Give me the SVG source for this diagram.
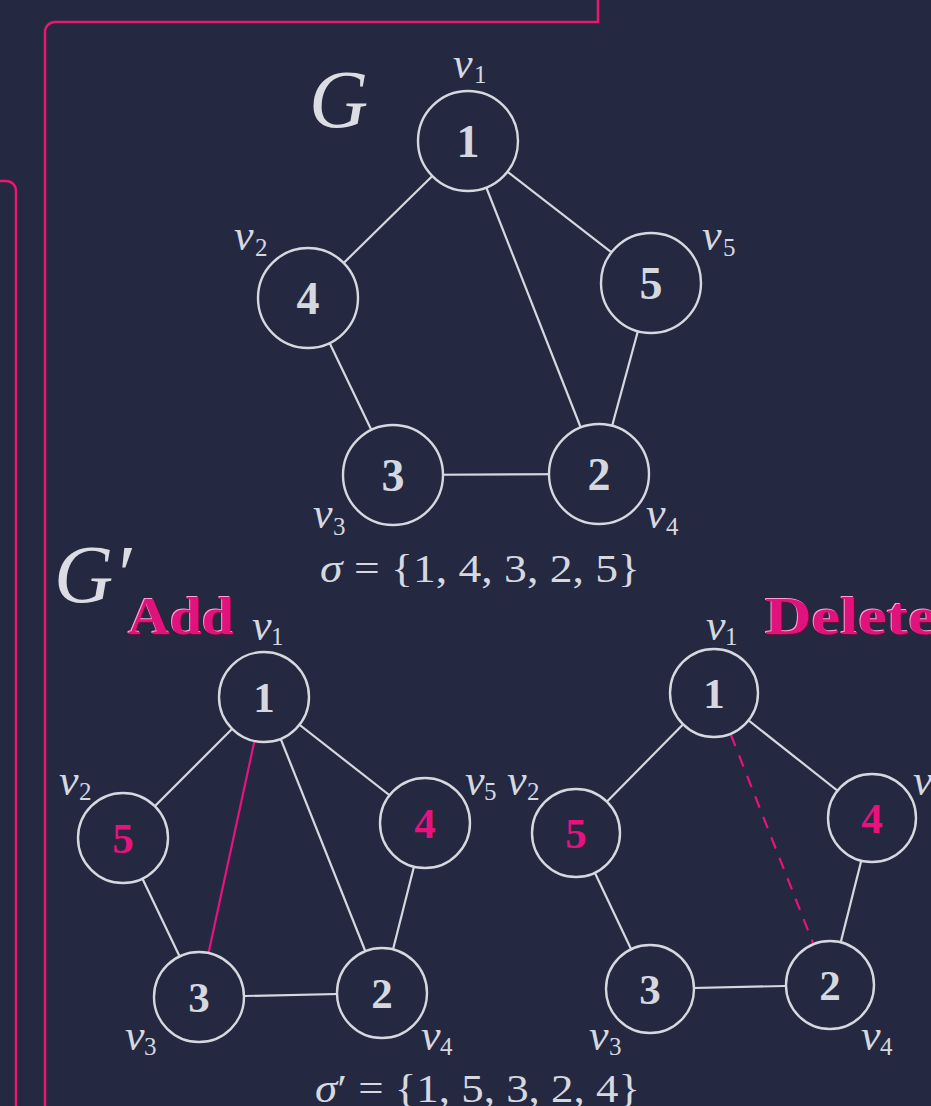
<svg xmlns="http://www.w3.org/2000/svg" width="931" height="1106" viewBox="0 0 931 1106">
<style>
.frame{fill:none;stroke:#e8186f;stroke-width:2.5}
.e{stroke:#d6d8e0;stroke-width:2.2;fill:none}
.ep{stroke:#e8127f;stroke-width:2.2;fill:none}
.n{fill:#242840;stroke:#d6d8e0;stroke-width:2.4}
.num{font-family:"Liberation Serif",serif;font-weight:bold;fill:#d6d8e0;text-anchor:middle}
.pk{fill:#e8127f}
.lv{font-family:"Liberation Serif",serif;font-style:italic;font-size:44px;fill:#d6d8e0}
.ls{font-family:"Liberation Serif",serif;font-size:25px;fill:#d6d8e0}
.big{font-family:"Liberation Serif",serif;font-style:italic;font-size:82px;fill:#dcdde3}
.math{font-family:"Liberation Serif",serif;font-size:40px;fill:#d6d8e0}
.tt{font-family:"Liberation Serif",serif;font-weight:bold;font-size:52px}
</style>
<rect width="931" height="1106" fill="#242840"/>
<path class="frame" d="M598,0 V22 H55 A10,10 0 0 0 45,32 V1106"/>
<path class="frame" d="M0,181 H6 A10,10 0 0 1 16,191 V1106"/>

<g id="connectors">
  <line class="e" x1="468" y1="141" x2="308" y2="298"/>
  <line class="e" x1="468" y1="141" x2="651" y2="283"/>
  <line class="e" x1="468" y1="141" x2="599" y2="474"/>
  <line class="e" x1="308" y1="298" x2="393" y2="475"/>
  <line class="e" x1="651" y1="283" x2="599" y2="474"/>
  <line class="e" x1="393" y1="475" x2="599" y2="474"/>

  <line class="e" x1="264" y1="697" x2="123" y2="838"/>
  <line class="e" x1="264" y1="697" x2="425" y2="823"/>
  <line class="e" x1="264" y1="697" x2="382" y2="993"/>
  <line class="e" x1="123" y1="838" x2="199" y2="997"/>
  <line class="e" x1="425" y1="823" x2="382" y2="993"/>
  <line class="e" x1="199" y1="997" x2="382" y2="993"/>
  <line class="ep" x1="264" y1="697" x2="199" y2="997"/>

  <line class="e" x1="714" y1="693" x2="576" y2="833"/>
  <line class="e" x1="714" y1="693" x2="872" y2="818"/>
  <line class="e" x1="576" y1="833" x2="650" y2="989"/>
  <line class="e" x1="872" y1="818" x2="830" y2="985"/>
  <line class="e" x1="650" y1="989" x2="830" y2="985"/>
  <line class="ep" x1="731" y1="735" x2="813" y2="943" stroke-dasharray="12,10"/>
</g>

<g id="G-n1"><circle class="n" cx="468" cy="141" r="50"/><text class="num" x="468" y="157" font-size="46">1</text></g>
<g id="G-n4"><circle class="n" cx="308" cy="298" r="50"/><text class="num" x="308" y="314" font-size="46">4</text></g>
<g id="G-n5"><circle class="n" cx="651" cy="283" r="50"/><text class="num" x="651" y="299" font-size="46">5</text></g>
<g id="G-n3"><circle class="n" cx="393" cy="475" r="50"/><text class="num" x="393" y="491" font-size="46">3</text></g>
<g id="G-n2"><circle class="n" cx="599" cy="474" r="50"/><text class="num" x="599" y="490" font-size="46">2</text></g>

<g id="A-n1"><circle class="n" cx="264" cy="697" r="45"/><text class="num" x="264" y="712" font-size="43">1</text></g>
<g id="A-n5"><circle class="n" cx="123" cy="838" r="45"/><text class="num pk" x="123" y="853" font-size="43">5</text></g>
<g id="A-n4"><circle class="n" cx="425" cy="823" r="45"/><text class="num pk" x="425" y="838" font-size="43">4</text></g>
<g id="A-n3"><circle class="n" cx="199" cy="997" r="45"/><text class="num" x="199" y="1012" font-size="43">3</text></g>
<g id="A-n2"><circle class="n" cx="382" cy="993" r="45"/><text class="num" x="382" y="1008" font-size="43">2</text></g>

<g id="D-n1"><circle class="n" cx="714" cy="693" r="44"/><text class="num" x="714" y="708" font-size="43">1</text></g>
<g id="D-n5"><circle class="n" cx="576" cy="833" r="44"/><text class="num pk" x="576" y="848" font-size="43">5</text></g>
<g id="D-n4"><circle class="n" cx="872" cy="818" r="44"/><text class="num pk" x="872" y="833" font-size="43">4</text></g>
<g id="D-n3"><circle class="n" cx="650" cy="989" r="44"/><text class="num" x="650" y="1004" font-size="43">3</text></g>
<g id="D-n2"><circle class="n" cx="830" cy="985" r="44"/><text class="num" x="830" y="1000" font-size="43">2</text></g>

<g id="labels">
  <text class="lv" x="453" y="78">v</text><text class="ls" x="474" y="83">1</text>
  <text class="lv" x="234" y="250">v</text><text class="ls" x="255" y="256">2</text>
  <text class="lv" x="702" y="250">v</text><text class="ls" x="723" y="256">5</text>
  <text class="lv" x="313" y="528">v</text><text class="ls" x="333" y="535">3</text>
  <text class="lv" x="646" y="528">v</text><text class="ls" x="666" y="535">4</text>

  <text class="lv" x="252" y="640">v</text><text class="ls" x="271" y="645">1</text>
  <text class="lv" x="59" y="795">v</text><text class="ls" x="79" y="800">2</text>
  <text class="lv" x="465" y="795">v</text><text class="ls" x="484" y="800">5</text>
  <text class="lv" x="125" y="1050">v</text><text class="ls" x="144" y="1055">3</text>
  <text class="lv" x="421" y="1050">v</text><text class="ls" x="440" y="1055">4</text>

  <text class="lv" x="706" y="640">v</text><text class="ls" x="725" y="645">1</text>
  <text class="lv" x="507" y="795">v</text><text class="ls" x="527" y="800">2</text>
  <text class="lv" x="913" y="795">v</text>
  <text class="lv" x="589" y="1050">v</text><text class="ls" x="609" y="1055">3</text>
  <text class="lv" x="861" y="1050">v</text><text class="ls" x="880" y="1055">4</text>
</g>

<g id="titles">
  <text class="big" x="309" y="127">G</text>
  <text class="big" x="54" y="602">G′</text>
  <text class="math" x="320" y="582" textLength="320" lengthAdjust="spacingAndGlyphs"><tspan font-style="italic">σ</tspan> = {1, 4, 3, 2, 5}</text>
  <text class="math" x="315" y="1102" textLength="325" lengthAdjust="spacingAndGlyphs"><tspan font-style="italic">σ</tspan>′ = {1, 5, 3, 2, 4}</text>

  <text class="tt" x="129" y="635" textLength="106" lengthAdjust="spacingAndGlyphs" fill="#6e0a3c">Add</text>
  <text class="tt" x="127" y="633" textLength="106" lengthAdjust="spacingAndGlyphs" fill="#ff9fcf">Add</text>
  <text class="tt" x="128" y="634" textLength="106" lengthAdjust="spacingAndGlyphs" fill="#e0127c">Add</text>

  <text class="tt" x="766" y="635" textLength="172" lengthAdjust="spacingAndGlyphs" fill="#6e0a3c">Delete</text>
  <text class="tt" x="764" y="633" textLength="172" lengthAdjust="spacingAndGlyphs" fill="#ff9fcf">Delete</text>
  <text class="tt" x="765" y="634" textLength="172" lengthAdjust="spacingAndGlyphs" fill="#e0127c">Delete</text>
</g>
</svg>
